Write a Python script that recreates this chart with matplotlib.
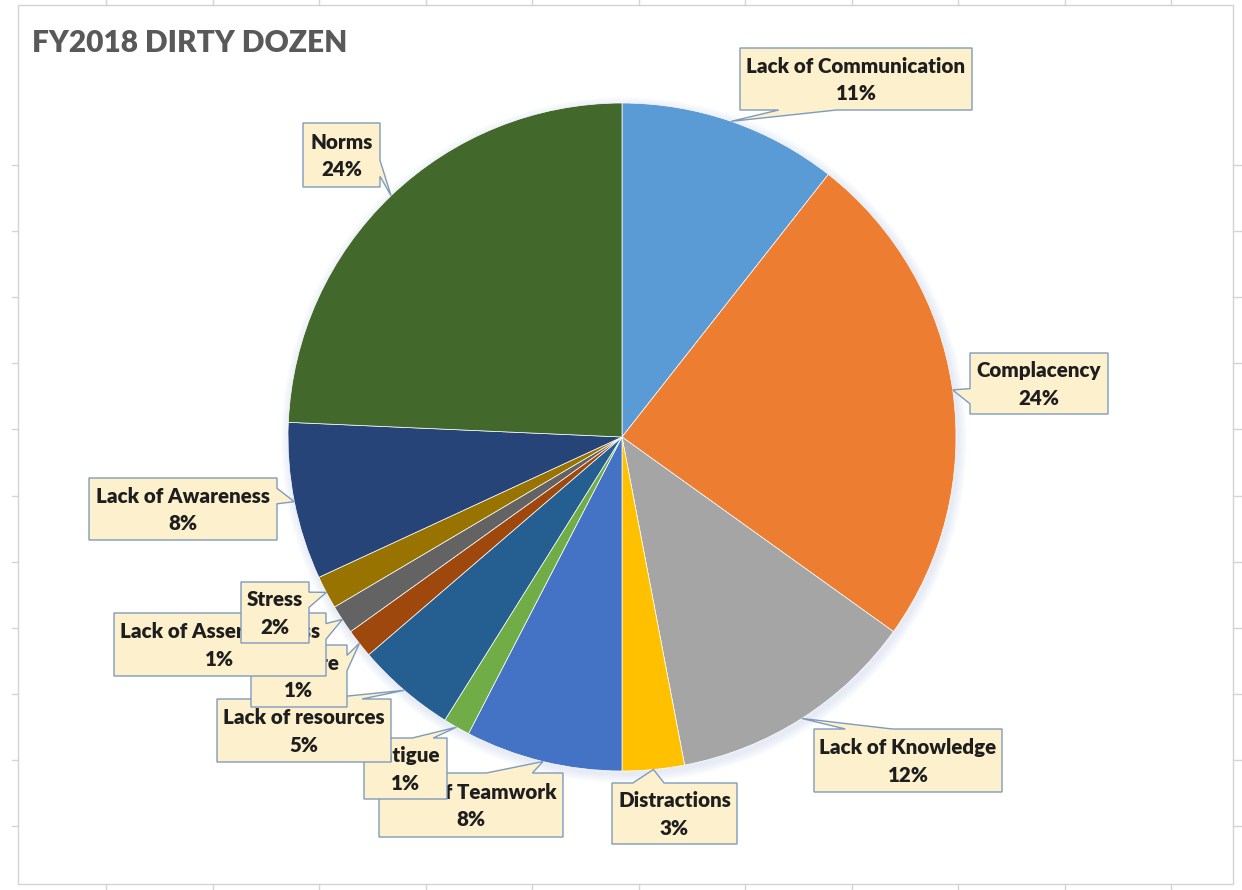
import numpy as np
import matplotlib
matplotlib.use("Agg")
import matplotlib.pyplot as plt
from matplotlib.patches import Polygon, Circle, Rectangle
from matplotlib.lines import Line2D

# ---------------- data ----------------
categories = ["Lack of Communication", "Complacency", "Lack of Knowledge", "Distractions",
              "Lack of Teamwork", "Fatigue", "Lack of resources", "Pressure",
              "Lack of Assertiveness", "Stress", "Lack of Awareness", "Norms"]
values = [10.6, 24.3, 12.1, 3.0, 7.6, 1.3, 4.8, 1.4, 1.4, 1.6, 7.6, 24.3]
title = "FY2018 DIRTY DOZEN"

# ---------------- style / layout ----------------
colors = ["#5B9BD5", "#ED7D31", "#A5A5A5", "#FFC000", "#4472C4", "#70AD47",
          "#255E91", "#9E480E", "#636363", "#997300", "#264478", "#43682B"]
W, H = 1242, 890
CX, CY, R = 622, 437, 334          # pie centre / radius (pixel coords, y down)
# label boxes (left, top, right, bottom) in pixel coords
boxes = [(740, 48, 972, 110), (970, 353, 1108, 414), (814, 729, 1002, 792),
         (612, 783, 737, 844), (379, 773, 563, 837), (364, 738, 447, 799),
         (217, 699, 391, 762), (251, 645, 347, 707), (114, 613, 326, 676),
         (241, 582, 309, 643), (89, 478, 277, 540), (303, 123, 380, 187)]

FONT = ["Lato", "DejaVu Sans"]

fig = plt.figure(figsize=(W / 100, H / 100), dpi=100)
ax = fig.add_axes([0, 0, 1, 1])

def Y(p):
    return H - p

# pie
total = sum(values)
ax.pie(values, colors=colors, startangle=90, counterclock=False,
       center=(CX, Y(CY)), radius=R,
       wedgeprops=dict(edgecolor="white", linewidth=0.5, alpha=1.0, zorder=3))

# soft shadow / glow behind pie
for k in range(10):
    ax.add_patch(Circle((CX + 2, Y(CY) - 3), R + 1 + k * 0.9, facecolor="#8faad0",
                        edgecolor="none", alpha=0.018, zorder=1))

ax.set_xlim(0, W)
ax.set_ylim(0, H)
ax.set_aspect("equal")
ax.axis("off")

# excel sheet border + cell grid stubs
grid_c = "#d4d4d4"
ax.add_patch(Rectangle((18, Y(884)), 1233 - 18, 884 - 5, fill=False,
                       edgecolor=grid_c, linewidth=1.0, zorder=0))
for x in 106.3 + 106.5 * np.arange(11):
    ax.add_line(Line2D([x, x], [Y(0), Y(5)], color=grid_c, lw=1.0))
    ax.add_line(Line2D([x, x], [Y(884), Y(890)], color=grid_c, lw=1.0))
for yy in 165 + 66.1 * np.arange(11):
    ax.add_line(Line2D([12, 18], [Y(yy), Y(yy)], color=grid_c, lw=1.0))
    ax.add_line(Line2D([1233, 1242], [Y(yy), Y(yy)], color=grid_c, lw=1.0))

# title
ax.text(32, Y(52), title, fontsize=21.5, fontweight="heavy", color="#595959",
        family=FONT, ha="left", va="baseline")

# callouts
def callout(l, t, r, b, xt, yt):
    w, h = r - l, b - t
    cx, cy = (l + r) / 2, (t + b) / 2
    dxn, dyn = (xt - cx) / w, (yt - cy) / h
    if abs(dyn) >= abs(dxn):
        f1, f2 = (7 / 12, 10 / 12) if xt > cx else (2 / 12, 5 / 12)
        x1, x2 = l + w * f1, l + w * f2
        if dyn > 0:
            pts = [(l, t), (r, t), (r, b), (x2, b), (xt, yt), (x1, b), (l, b)]
        else:
            pts = [(l, t), (x1, t), (xt, yt), (x2, t), (r, t), (r, b), (l, b)]
    else:
        f1, f2 = (7 / 12, 10 / 12) if yt > cy else (2 / 12, 5 / 12)
        y1, y2 = t + h * f1, t + h * f2
        if dxn > 0:
            pts = [(l, t), (r, t), (r, y1), (xt, yt), (r, y2), (r, b), (l, b)]
        else:
            pts = [(l, t), (r, t), (r, b), (l, b), (l, y2), (xt, yt), (l, y1)]
    return [(px, Y(py)) for px, py in pts]

cum = np.cumsum([0] + values[:-1])
for i, (name, v) in enumerate(zip(categories, values)):
    mid = (cum[i] + v / 2) / total * 2 * np.pi
    xt = CX + R * np.sin(mid)
    yt = CY - R * np.cos(mid)
    l, t, r, b = boxes[i]
    z = 10 + 2 * i
    ax.add_patch(Polygon(callout(l, t, r, b, xt, yt), closed=True,
                         facecolor="#FDF0CD", edgecolor="#7E9BBE",
                         linewidth=1.0, zorder=z))
    pct = f"{round(v / total * 100):.0f}%"
    ax.text((l + r) / 2, Y((t + b) / 2 + 1), f"{name}\n{pct}", ha="center", va="center",
            fontsize=14.8, fontweight="heavy", color="#1e1e1e", family=FONT,
            linespacing=1.55, zorder=z + 1)

fig.savefig("out.png", dpi=100, facecolor="white")
